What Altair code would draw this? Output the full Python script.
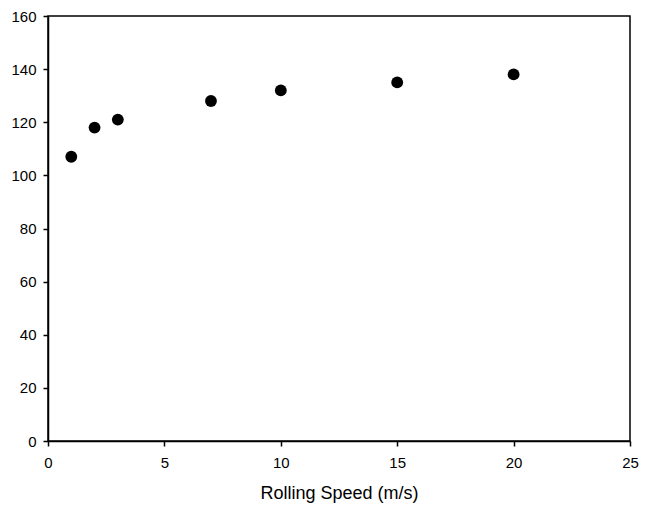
import altair as alt
import pandas as pd

speed = [1, 2, 3, 7, 10, 15, 20]
value = [107, 118, 121, 128, 132, 135, 138]

df = pd.DataFrame({"speed": speed, "value": value})

chart = alt.Chart(df).mark_circle(size=140, color="black", opacity=1).encode(
    x=alt.X("speed:Q", scale=alt.Scale(domain=[0, 25], nice=False),
            axis=alt.Axis(values=[0, 5, 10, 15, 20, 25], title="Rolling Speed (m/s)",
                          grid=False, tickSize=5, labelPadding=9, titlePadding=14,
                          labelFlush=False)),
    y=alt.Y("value:Q", scale=alt.Scale(domain=[0, 160], nice=False),
            axis=alt.Axis(values=list(range(0, 161, 20)), title=None,
                          grid=False, tickSize=5, labelPadding=7, labelFlush=False)),
).properties(
    width=582, height=425,
    autosize=alt.AutoSizeParams(type="none"),
    padding={"left": 40, "top": 8, "right": 9, "bottom": 66},
).configure_view(
    stroke="black", strokeWidth=1.5
).configure_axis(
    domainColor="black", domainWidth=1.5, tickColor="black", tickWidth=1.5,
    labelColor="black", labelFont="Liberation Sans", labelFontSize=15,
    titleFont="Liberation Sans", titleFontSize=18, titleFontWeight="normal", titleColor="black",
)

chart.save("out.html", embed_options={"renderer": "svg", "actions": False})
